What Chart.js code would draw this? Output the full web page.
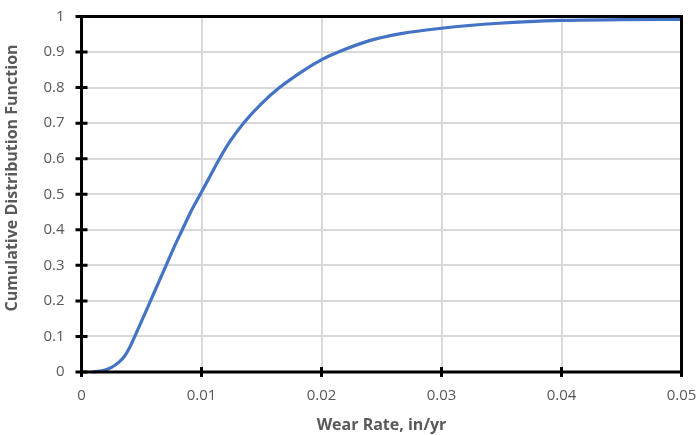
<!DOCTYPE html>
<html>
<head>
<meta charset="utf-8">
<script src="https://cdn.jsdelivr.net/npm/chart.js@4/dist/chart.umd.min.js"></script>
<style>
  html, body { margin: 0; padding: 0; background: #ffffff; }
  #wrap { width: 699px; height: 435px; }
</style>
</head>
<body>
<div id="wrap"><canvas id="c" width="699" height="435"></canvas></div>
<script>
// ---- Data ----
const wearRate = [0.00083, 0.0018, 0.0025, 0.0031, 0.0036, 0.0040, 0.00444, 0.0051, 0.00575, 0.0064, 0.00705, 0.0077, 0.0084, 0.0091, 0.0099, 0.0107, 0.0115, 0.0124, 0.0135, 0.0150, 0.0165, 0.0185, 0.0201, 0.0214, 0.0238, 0.0265, 0.0300, 0.0348, 0.0400, 0.0450, 0.0500];
const cdf      = [0.000,   0.004,  0.013,  0.027,  0.045,  0.068,  0.100,   0.150,  0.200,   0.250,  0.300,   0.350,  0.400,  0.450,  0.500,  0.550,  0.600,  0.650,  0.700,  0.755,  0.800,  0.848,  0.880,  0.900,  0.930,  0.951,  0.967,  0.981,  0.989,  0.991,  0.992];
const xTickLabels = ['0', '0.01', '0.02', '0.03', '0.04', '0.05'];
const yTickLabels = ['0', '0.1', '0.2', '0.3', '0.4', '0.5', '0.6', '0.7', '0.8', '0.9', '1'];
const xTitle = 'Wear Rate, in/yr';
const yTitle = 'Cumulative Distribution Function';

const points = wearRate.map((x, i) => ({ x: x, y: cdf[i] }));
const textColor = '#595959';

const framePlugin = {
  id: 'frame',
  afterDraw(chart) {
    const ctx = chart.ctx;
    const a = chart.chartArea;
    const xs = chart.scales.x, ys = chart.scales.y;
    ctx.save();
    ctx.strokeStyle = '#000000';
    ctx.lineWidth = 3;
    ctx.strokeRect(a.left, a.top, a.right - a.left, a.bottom - a.top);
    // cross tick marks
    ctx.beginPath();
    xs.ticks.forEach(t => {
      const px = xs.getPixelForValue(t.value);
      ctx.moveTo(px, a.bottom - 5);
      ctx.lineTo(px, a.bottom + 5);
    });
    ys.ticks.forEach(t => {
      const py = ys.getPixelForValue(t.value);
      ctx.moveTo(a.left - 6, py);
      ctx.lineTo(a.left + 6, py);
    });
    ctx.stroke();
    // y axis title
    ctx.fillStyle = textColor;
    ctx.font = 'bold 16px "Open Sans"';
    ctx.textAlign = 'center';
    ctx.textBaseline = 'middle';
    ctx.translate(12, 178);
    ctx.rotate(-Math.PI / 2);
    ctx.fillText(yTitle, 0, 0);
    ctx.restore();
  }
};

new Chart(document.getElementById('c'), {
  type: 'line',
  data: {
    datasets: [{
      data: points,
      borderColor: '#4472C4',
      borderWidth: 3.2,
      pointRadius: 0,
      fill: false,
      cubicInterpolationMode: 'monotone',
      clip: 4
    }]
  },
  options: {
    responsive: false,
    devicePixelRatio: 1,
    animation: false,
    layout: { padding: { top: 16.5, right: 17.5, left: 0, bottom: 0 } },
    plugins: { legend: { display: false }, tooltip: { enabled: false } },
    scales: {
      x: {
        type: 'linear',
        min: 0, max: 0.05,
        afterFit(s) { s.height = 63; s.paddingLeft = 0; s.paddingRight = 0; },
        ticks: {
          stepSize: 0.01,
          padding: 15,
          color: textColor,
          font: { family: 'Open Sans', size: 15 },
          maxRotation: 0,
          callback: (v, i) => xTickLabels[i]
        },
        grid: { color: '#d9d9d9', lineWidth: 2, drawTicks: false },
        border: { display: false },
        title: {
          display: true, text: xTitle, color: textColor,
          font: { family: 'Open Sans', size: 16, weight: 'bold' },
          padding: { top: 0, bottom: 0 }
        }
      },
      y: {
        type: 'linear',
        min: 0, max: 1,
        afterFit(s) { s.width = 81.5; s.paddingTop = 0; s.paddingBottom = 0; },
        ticks: {
          stepSize: 0.1,
          padding: 17,
          color: textColor,
          font: { family: 'Open Sans', size: 15 },
          callback: (v, i) => yTickLabels[i]
        },
        grid: { color: '#d9d9d9', lineWidth: 2, drawTicks: false },
        border: { display: false }
      }
    }
  },
  plugins: [framePlugin]
});
</script>
</body>
</html>
